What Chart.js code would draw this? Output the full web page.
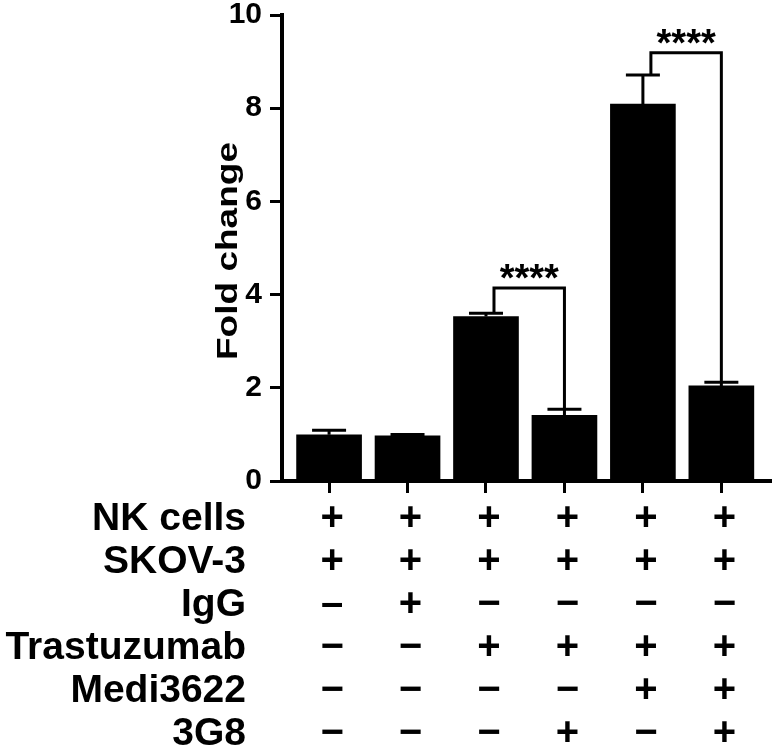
<!DOCTYPE html>
<html><head><meta charset="utf-8">
<script src="https://cdn.jsdelivr.net/npm/chart.js@4"></script>
<style>html,body{margin:0;padding:0;background:#fff;}#wrap{width:774px;height:750px;position:relative}</style>
</head><body><div id="wrap"><canvas id="c" width="774" height="750"></canvas></div>
<script>
// ---- data ----
const conditions = ['NK+SKOV-3', 'NK+SKOV-3+IgG', 'NK+SKOV-3+Trastuzumab', 'NK+SKOV-3+Trastuzumab+3G8', 'NK+SKOV-3+Trastuzumab+Medi3622', 'NK+SKOV-3+Trastuzumab+Medi3622+3G8'];
const foldChange = [0.99, 0.97, 3.53, 1.41, 8.09, 2.04];
const foldChangeErr = [0.10, 0.03, 0.07, 0.13, 0.62, 0.08];
const yTickValues = [0, 2, 4, 6, 8, 10];
const yAxisTitle = 'Fold change';
const treatmentNames = ['NK cells', 'SKOV-3', 'IgG', 'Trastuzumab', 'Medi3622', '3G8'];
const signNKcells = ['+', '+', '+', '+', '+', '+'];
const signSKOV3 = ['+', '+', '+', '+', '+', '+'];
const signIgG = ['–', '+', '−', '−', '−', '−'];
const signTrastuzumab = ['−', '−', '+', '+', '+', '+'];
const signMedi3622 = ['−', '−', '−', '−', '+', '+'];
const sign3G8 = ['−', '−', '−', '+', '−', '+'];
const treatmentSigns = [signNKcells, signSKOV3, signIgG, signTrastuzumab, signMedi3622, sign3G8];
const comparisonFrom = [2, 4];
const comparisonTo = [3, 5];
const comparisonHeight = [4.14, 9.19];
const comparisonLabel = ['****', '****'];

// ---- drawing ----
const FONT = '"Liberation Sans", Arial, Helvetica, sans-serif';
Chart.defaults.font.family = FONT;
Chart.defaults.color = '#000';

const axisGrid = {display: true, drawOnChartArea: false, drawTicks: true, tickLength: 12, color: '#000', lineWidth: 3, offset: false};
const axisBorder = {display: true, color: '#000', width: 4};

const errorBarPlugin = {
  id: 'errorBars',
  afterDatasetsDraw(chart) {
    const {ctx, scales: {x, y}} = chart;
    ctx.save();
    ctx.strokeStyle = '#000';
    ctx.lineWidth = 3;
    foldChange.forEach((v, i) => {
      const px = x.getPixelForValue(i);
      const y0 = y.getPixelForValue(v);
      const y1 = y.getPixelForValue(v + foldChangeErr[i]);
      ctx.beginPath();
      ctx.moveTo(px, y0); ctx.lineTo(px, y1);
      ctx.moveTo(px - 17, y1); ctx.lineTo(px + 17, y1);
      ctx.stroke();
    });
    // significance brackets
    ctx.lineJoin = 'miter';
    comparisonFrom.forEach((a, k) => {
      const b = comparisonTo[k];
      const xa = x.getPixelForValue(a) + 8;
      const xb = x.getPixelForValue(b);
      const ya = y.getPixelForValue(foldChange[a] + foldChangeErr[a]);
      const yb = y.getPixelForValue(foldChange[b] + foldChangeErr[b]);
      const yt = y.getPixelForValue(comparisonHeight[k]);
      ctx.beginPath();
      ctx.moveTo(xa, ya); ctx.lineTo(xa, yt); ctx.lineTo(xb, yt); ctx.lineTo(xb, yb);
      ctx.stroke();
      ctx.fillStyle = '#000';
      ctx.font = 'bold 38px ' + FONT;
      ctx.textAlign = 'center';
      ctx.textBaseline = 'alphabetic';
      ctx.fillText(comparisonLabel[k], (xa + xb) / 2, yt + 3);
    });
    ctx.restore();
  }
};

const tablePlugin = {
  id: 'treatmentTable',
  afterDraw(chart) {
    const {ctx, scales: {x}} = chart;
    ctx.save();
    ctx.fillStyle = '#000';
    ctx.textBaseline = 'alphabetic';
    treatmentNames.forEach((name, r) => {
      const by = 530 + 43 * r;
      ctx.font = 'bold 39px ' + FONT;
      ctx.textAlign = 'right';
      ctx.fillText(name, 246, by);
      ctx.font = 'bold 40px ' + FONT;
      ctx.textAlign = 'center';
      treatmentSigns[r].forEach((s, i) => {
        ctx.fillText(s, x.getPixelForValue(i) + 3, by);
      });
    });
    // y axis title
    ctx.translate(226.5, 251);
    ctx.rotate(-Math.PI / 2);
    ctx.font = 'bold 29px ' + FONT;
    const w = ctx.measureText(yAxisTitle).width;
    ctx.scale(218 / w, 1);
    ctx.textAlign = 'center';
    ctx.textBaseline = 'middle';
    ctx.fillText(yAxisTitle, 0, 2);
    ctx.restore();
  }
};

new Chart(document.getElementById('c'), {
  type: 'bar',
  data: {
    labels: conditions,
    datasets: [{
      data: foldChange.map((v, i) => ({x: i, y: v})),
      backgroundColor: '#000',
      borderWidth: 0,
      barThickness: 65
    }]
  },
  options: {
    responsive: false,
    animation: false,
    layout: {padding: {top: 15, right: 4, left: 0, bottom: 0}},
    plugins: {legend: {display: false}, tooltip: {enabled: false}},
    scales: {
      x: {
        type: 'linear', min: -0.6, max: 5.62, offset: false,
        afterBuildTicks(s) { s.ticks = conditions.map((_, i) => ({value: i})); },
        afterFit(s) { s.height = 269; s.paddingLeft = 0; s.paddingRight = 0; },
        ticks: {display: false},
        grid: axisGrid,
        border: axisBorder
      },
      y: {
        type: 'linear', min: 0, max: 10,
        afterBuildTicks(s) { s.ticks = yTickValues.map(v => ({value: v})); },
        afterFit(s) { s.width = 282; s.paddingTop = 0; s.paddingBottom = 0; },
        ticks: {font: {size: 30, weight: 'bold'}, color: '#000', padding: 8},
        grid: axisGrid,
        border: axisBorder
      }
    }
  },
  plugins: [errorBarPlugin, tablePlugin]
});
</script>
</body></html>
